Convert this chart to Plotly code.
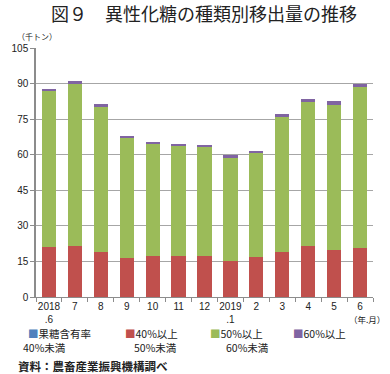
import plotly.graph_objects as go

months = ["2018<br>.6", "7", "8", "9", "10", "11", "12", "2019<br>.1", "2", "3", "4", "5", "6"]
under40 = [0, 0, 0, 0, 0, 0, 0, 0, 0, 0, 0, 0, 0]
p40_50 = [21.0, 21.7, 19.1, 16.4, 17.5, 17.5, 17.5, 15.3, 16.9, 19.1, 21.3, 19.9, 20.5]
p50_60 = [65.9, 68.2, 61.0, 50.5, 47.2, 46.2, 46.0, 43.3, 43.9, 56.6, 60.9, 61.0, 68.1]
p60_up = [1.0, 1.2, 1.3, 1.0, 0.8, 0.8, 0.6, 1.4, 0.7, 1.3, 1.2, 1.6, 1.3]
y_ticks = [0, 15, 30, 45, 60, 75, 90, 105]

names = ["果糖含有率40%未満", "40%以上50%未満", "50%以上60%未満", "60%以上"]
colors = ["#4F81BD", "#C0504D", "#9BBB59", "#8064A2"]
series = [under40, p40_50, p50_60, p60_up]

FONT = "Liberation Sans, Arial, Noto Sans CJK JP, sans-serif"
JP = "Noto Sans CJK JP, sans-serif"

fig = go.Figure()
for n, c, s in zip(names, colors, series):
    fig.add_trace(go.Bar(x=months, y=s, name=n, marker=dict(color=c, line=dict(width=0))))

L, R, T, B = 23, 17, 48, 77
W, H = 390, 374
pw = W - L - R
ph = H - T - B

def px(x):
    return (x - L) / pw

def py(y):
    return (H - B - y) / ph

fig.update_layout(
    width=W, height=H,
    margin=dict(l=L, r=R, t=T, b=B),
    barmode="stack",
    bargap=0.45,
    showlegend=False,
    paper_bgcolor="white",
    plot_bgcolor="white",
    font=dict(family=FONT, size=10, color="#222"),
    xaxis=dict(
        type="category",
        showline=True, linecolor="#8C8C8C", linewidth=1,
        ticks="outside", tickson="boundaries", ticklen=4, tickcolor="#8C8C8C",
        tickfont=dict(size=10, color="#222"),
        tickangle=0, ticklabelstandoff=0,
        showgrid=False,
    ),
    yaxis=dict(
        range=[0, 105], tickvals=y_ticks,
        showline=True, linecolor="#8C8C8C", linewidth=1.5,
        ticks="outside", ticklen=4, tickcolor="#8C8C8C",
        showgrid=True, gridcolor="#A6A6A6", gridwidth=1,
        zeroline=False,
        tickfont=dict(size=10, color="#222"),
    ),
)

ann = []
def add(text, x, y, size, xanchor="left", family=JP, color="#222"):
    ann.append(dict(text=text, x=px(x), y=py(y), xref="paper", yref="paper",
                    xanchor=xanchor, yanchor="middle", showarrow=False,
                    font=dict(family=family, size=size, color=color)))

add("図９　異性化糖の種類別移出量の推移", 197, 13, 18, xanchor="center")
add("（千トン）", 1, 36, 8)
add("（年.月）", 388, 319, 8.5, xanchor="right")

row1 = ["果糖含有率", "40%以上", "50%以上", "60%以上"]
row2 = ["40%未満", "50%未満", "60%未満"]
x1 = [13, 113, 202, 288]
x2 = [7, 123, 218]
for t, c, x in zip(row1, colors, x1):
    add('<span style="color:%s">■</span>%s' % (c, t), x, 333, 10.5)
for t, x in zip(row2, x2):
    add(t, x, 347, 10.5)

add("<b>資料：農畜産業振興機構調べ</b>", 2, 366, 11.5)
fig.update_layout(annotations=ann)

fig.write_html("out.html", config={"displayModeBar": False},
               post_script="document.body.style.margin='0';")
